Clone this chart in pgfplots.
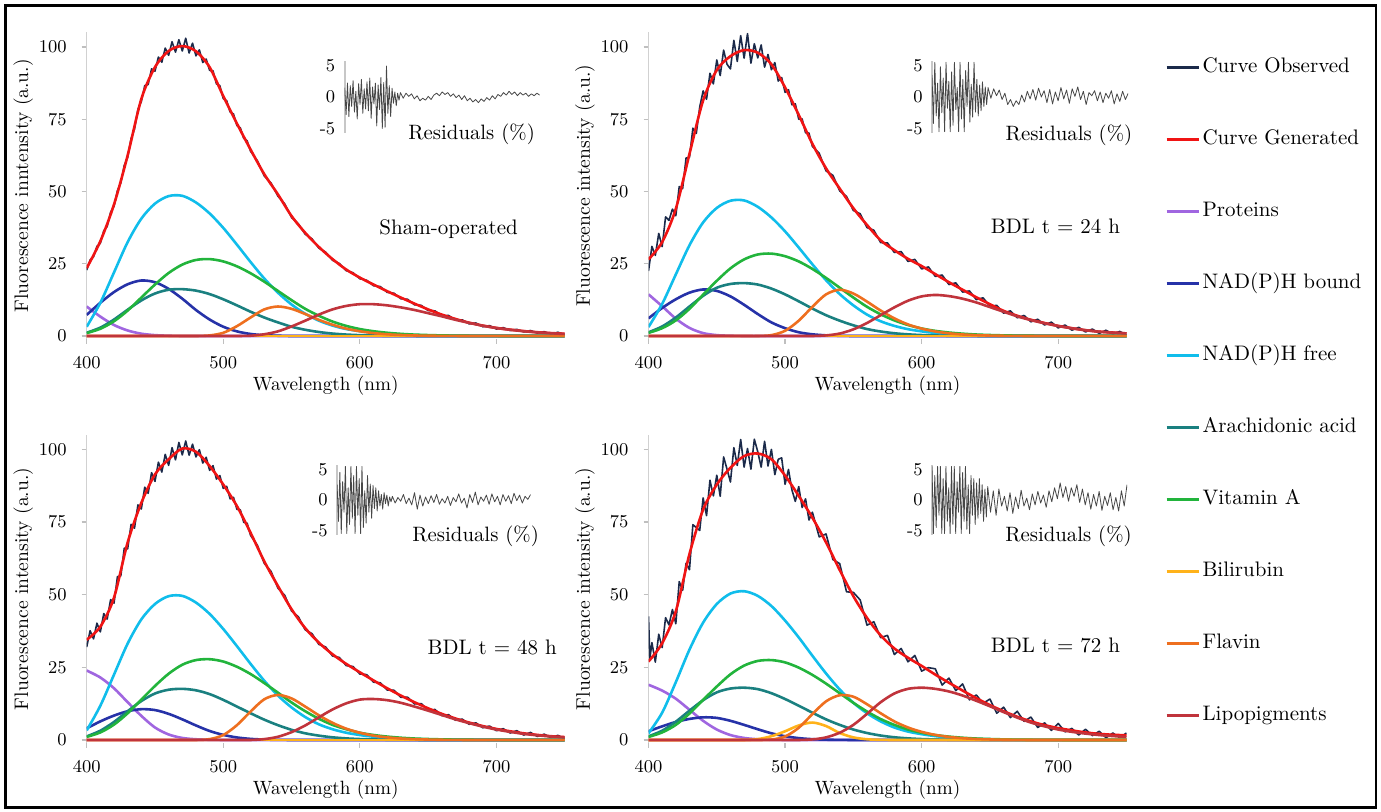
\documentclass[border=0pt]{standalone}
\usepackage{pgfplots}
\pgfplotsset{compat=1.18}
\usepackage{pgfplotstable}

\definecolor{cobs}{HTML}{1B2A4A}
\definecolor{cgen}{HTML}{F01414}
\definecolor{cprot}{HTML}{A066E0}
\definecolor{cbound}{HTML}{2632A8}
\definecolor{cfree}{HTML}{10BDEB}
\definecolor{carach}{HTML}{1A8080}
\definecolor{cvita}{HTML}{22B43C}
\definecolor{cbili}{HTML}{FFB21A}
\definecolor{cflav}{HTML}{EE6F1F}
\definecolor{clipo}{HTML}{C0343C}

% fitted components, one table per condition
\pgfplotstableread{
nm gen prot bound free arach vita bili flav lipo
400 23.5 10.2 7.3 3.2 1.13 1.0 0 0 0
410 32.8 6.7 11.5 11.5 2.9 2.5 0 0 0
420 45.5 3.8 15.2 22.0 5.7 5.1 0 0 0
430 62.5 1.9 17.9 32.5 9.1 8.8 0 0 0
440 82.0 0.8 19.2 40.6 12.3 13.3 0 0 0
450 93.0 0.3 18.6 45.8 14.7 17.8 0 0 0
460 98.6 0.1 16.3 48.4 16.0 21.8 0 0 0
470 100.3 0 12.9 48.5 16.2 24.7 0 0 0
480 98.5 0 9.0 46.2 15.7 26.3 0 0 0
490 93.0 0 5.7 42.4 14.5 26.6 0 0.2 0
500 83.0 0 3.2 37.4 12.7 25.8 0 1.1 0
510 73.5 0 1.6 31.6 10.6 24.1 0 3.4 0
520 64.5 0 0.7 25.6 8.4 21.7 0 6.4 0.1
530 56.0 0 0.27 19.9 6.4 18.8 0 9.2 0.6
540 49.0 0 0.1 15.0 4.7 15.6 0 10.2 1.6
550 41.5 0 0 10.9 3.2 12.4 0 9.4 3.3
560 35.7 0 0 7.7 2.15 9.4 0 7.6 5.3
570 30.8 0 0 5.3 1.38 7.0 0 5.6 7.4
580 26.6 0 0 3.6 0.84 5.0 0 3.9 9.2
590 23.0 0 0 2.4 0.5 3.5 0 2.55 10.4
600 20.2 0 0 1.66 0.29 2.4 0 1.63 11.0
610 17.8 0 0 1.1 0.16 1.65 0 1.0 11.0
620 15.5 0 0 0.72 0.08 1.12 0 0.59 10.6
630 13.3 0 0 0.47 0.04 0.74 0 0.34 9.9
640 11.2 0 0 0.3 0.02 0.48 0 0.18 9.0
650 9.2 0 0 0.19 0 0.32 0 0.1 7.9
660 7.4 0 0 0.12 0 0.2 0 0.05 6.8
670 5.9 0 0 0.07 0 0.12 0 0.02 5.6
680 4.6 0 0 0.04 0 0.07 0 0 4.55
690 3.6 0 0 0.02 0 0.04 0 0 3.55
700 2.8 0 0 0 0 0.02 0 0 2.75
710 2.2 0 0 0 0 0 0 0 2.15
720 1.7 0 0 0 0 0 0 0 1.65
730 1.3 0 0 0 0 0 0 0 1.25
740 1.0 0 0 0 0 0 0 0 0.94
750 0.8 0 0 0 0 0 0 0 0.7
}\shamfit

\pgfplotstableread{
nm gen prot bound free arach vita bili flav lipo
400 26.5 14.4 6.1 3.1 1.28 1.08 0 0 0
410 32.5 10.3 9.7 11.1 3.3 2.7 0 0 0
420 44.0 6.0 12.7 21.3 6.4 5.4 0 0 0
430 63.0 2.8 15.0 31.4 10.2 9.4 0 0 0
440 81.5 1.0 16.1 39.3 13.9 14.3 0 0 0
450 92.0 0.3 15.6 44.3 16.7 19.1 0 0 0
460 96.8 0.1 13.7 46.8 18.0 23.4 0 0 0
470 98.9 0 10.8 46.9 18.3 26.5 0 0 0
480 98.0 0 7.6 44.7 17.8 28.2 0 0 0
490 94.0 0 4.7 41.0 16.4 28.5 0 0.3 0
500 86.0 0 2.7 36.2 14.4 27.6 0 1.8 0
510 76.5 0 1.3 30.6 12.0 25.8 0 5.3 0
520 66.5 0 0.58 24.8 9.5 23.2 0 10.1 0
530 58.0 0 0.23 19.3 7.2 20.1 0 14.4 0.21
540 51.0 0 0.08 14.5 5.3 16.7 0 16.0 0.85
550 44.2 0 0 10.6 3.7 13.3 0 14.7 2.3
560 38.4 0 0 7.4 2.4 10.1 0 11.9 4.5
570 33.1 0 0 5.1 1.56 7.5 0 8.8 7.2
580 29.7 0 0 3.5 0.95 5.4 0 6.1 9.9
590 26.7 0 0 2.36 0.57 3.8 0 4.0 12.2
600 24.2 0 0 1.6 0.33 2.6 0 2.56 13.7
610 21.4 0 0 1.06 0.18 1.77 0 1.57 14.2
620 18.6 0 0 0.7 0.09 1.2 0 0.93 13.8
630 16.0 0 0 0.46 0.05 0.8 0 0.53 12.9
640 13.4 0 0 0.29 0.02 0.51 0 0.29 11.6
650 11.0 0 0 0.19 0 0.34 0 0.15 10.0
660 8.7 0 0 0.12 0 0.21 0 0.07 8.4
670 7.0 0 0 0.07 0 0.13 0 0.03 6.8
680 5.6 0 0 0.04 0 0.08 0 0 5.5
690 4.5 0 0 0.02 0 0.04 0 0 4.4
700 3.5 0 0 0 0 0.02 0 0 3.45
710 2.7 0 0 0 0 0 0 0 2.65
720 2.0 0 0 0 0 0 0 0 2.0
730 1.5 0 0 0 0 0 0 0 1.5
740 1.2 0 0 0 0 0 0 0 1.15
750 0.9 0 0 0 0 0 0 0 0.87
}\dayonefit

\pgfplotstableread{
nm gen prot bound free arach vita bili flav lipo
400 34.5 23.9 4.0 3.3 1.23 1.06 0 0 0
410 39.0 21.5 6.4 11.8 3.2 2.6 0 0 0
420 49.0 17.8 8.4 22.5 6.2 5.3 0 0 0
430 68.0 13.0 9.9 33.2 9.9 9.2 0 0 0
440 81.6 8.3 10.6 41.5 13.4 13.9 0 0 0
450 91.4 4.3 10.3 46.8 16.0 18.6 0 0 0
460 96.6 1.9 9.0 49.5 17.3 22.8 0 0 0
470 100.3 0.7 7.1 49.6 17.6 25.9 0 0 0
480 99.2 0.25 5.0 47.3 17.1 27.5 0 0 0
490 94.3 0.08 3.1 43.4 15.8 27.8 0 0.3 0
500 87.9 0 1.75 38.2 13.8 27.0 0 1.7 0
510 80.5 0 0.87 32.3 11.5 25.2 0 5.1 0
520 71.3 0 0.38 26.2 9.2 22.7 0 9.8 0
530 61.5 0 0.15 20.4 7.0 19.6 0 14.0 0.3
540 53.0 0 0.05 15.3 5.1 16.3 0 15.5 1.1
550 45.0 0 0 11.2 3.5 12.9 0 14.3 2.7
560 38.5 0 0 7.9 2.3 9.9 0 11.5 5.0
570 33.5 0 0 5.4 1.5 7.3 0 8.5 7.8
580 29.5 0 0 3.7 0.92 5.2 0 5.9 10.5
590 26.2 0 0 2.5 0.55 3.7 0 3.9 12.6
600 23.3 0 0 1.7 0.32 2.5 0 2.5 13.9
610 20.5 0 0 1.13 0.18 1.72 0 1.5 14.1
620 17.8 0 0 0.74 0.09 1.17 0 0.9 13.7
630 15.3 0 0 0.48 0.04 0.78 0 0.51 12.8
640 13.0 0 0 0.31 0.02 0.5 0 0.28 11.5
650 10.9 0 0 0.2 0 0.33 0 0.15 10.1
660 9.0 0 0 0.12 0 0.21 0 0.07 8.6
670 7.4 0 0 0.07 0 0.13 0 0.03 7.1
680 6.0 0 0 0.04 0 0.08 0 0 5.8
690 4.8 0 0 0.02 0 0.04 0 0 4.6
700 3.8 0 0 0 0 0.02 0 0 3.6
710 3.0 0 0 0 0 0 0 0 2.8
720 2.3 0 0 0 0 0 0 0 2.1
730 1.75 0 0 0 0 0 0 0 1.6
740 1.3 0 0 0 0 0 0 0 1.2
750 1.0 0 0 0 0 0 0 0 0.9
}\daytwofit

\pgfplotstableread{
nm gen prot bound free arach vita bili flav lipo
400 27.0 19.0 3.0 2.3 1.26 1.05 0 0 0
410 33.3 17.0 4.7 9.4 3.2 2.6 0 0 0
420 44.3 14.2 6.2 19.9 6.3 5.2 0 0 0
430 64.0 10.4 7.25 31.1 10.1 9.1 0 0 0
440 79.3 6.6 7.8 40.4 13.7 13.8 0 0 0
450 87.9 3.6 7.6 46.8 16.4 18.4 0 0 0
460 93.7 1.7 6.6 50.4 17.7 22.6 0 0 0
470 97.7 0.7 5.2 51.2 18.0 25.6 0 0 0
480 98.6 0.25 3.7 49.6 17.5 27.2 0.3 0 0
490 96.6 0.08 2.3 46.1 16.1 27.5 1.3 0.15 0
500 91.0 0 1.3 41.1 14.1 26.7 3.0 1.2 0
510 84.0 0 0.64 35.3 11.8 24.9 5.0 4.2 0
520 76.5 0 0.28 29.0 9.4 22.4 6.0 8.9 0.2
530 68.0 0 0.11 22.9 7.1 19.4 4.8 13.3 0.9
540 58.5 0 0.04 17.4 5.2 16.1 2.4 15.4 2.5
550 49.5 0 0 12.8 3.6 12.8 0.9 14.9 5.2
560 42.0 0 0 9.2 2.4 9.8 0.25 12.3 9.0
570 36.0 0 0 6.4 1.53 7.2 0.05 9.2 13.0
580 31.5 0 0 4.3 0.94 5.2 0 6.4 16.0
590 28.3 0 0 2.9 0.56 3.6 0 4.3 17.6
600 25.5 0 0 2.0 0.32 2.5 0 2.8 18.0
610 22.5 0 0 1.34 0.18 1.7 0 1.75 17.6
620 19.7 0 0 0.88 0.09 1.16 0 1.05 16.7
630 17.0 0 0 0.57 0.05 0.77 0 0.61 15.3
640 14.4 0 0 0.37 0.02 0.5 0 0.34 13.5
650 12.0 0 0 0.24 0 0.33 0 0.18 11.6
660 9.9 0 0 0.15 0 0.21 0 0.09 9.6
670 8.0 0 0 0.09 0 0.12 0 0.04 7.7
680 6.4 0 0 0.05 0 0.07 0 0 6.0
690 5.1 0 0 0.03 0 0.04 0 0 4.7
700 4.1 0 0 0 0 0.02 0 0 3.6
710 3.3 0 0 0 0 0 0 0 2.8
720 2.6 0 0 0 0 0 0 0 2.2
730 2.1 0 0 0 0 0 0 0 1.7
740 1.8 0 0 0 0 0 0 0 1.35
750 1.6 0 0 0 0 0 0 0 1.05
}\daythreefit

% observed spectra
\pgfplotstableread{
nm obs
400 22.8
402.5 26.3
405 27.4
407.5 31.0
410 32.1
412.5 36.4
415 37.9
417.5 42.8
420 44.9
422.5 50.3
425 53.0
427.5 59.0
430 61.8
432.5 68.3
435 71.6
437.5 78.4
440 81.1
442.5 86.6
445 87.0
447.5 92.4
450 91.6
452.5 96.5
455 94.7
457.5 99.6
460 97.1
462.5 101.8
465 98.2
467.5 102.5
470 98.6
472.5 103.0
475 97.9
477.5 101.3
480 96.9
482.5 99.0
485 94.6
487.5 95.8
490 91.9
492.5 91.7
495 87.2
497.5 86.6
500 82.1
502.5 81.4
505 77.5
507.5 76.8
510 72.8
512.5 72.0
515 68.4
517.5 67.5
520 63.9
525 60.6
530 55.4
535 52.9
540 48.4
545 45.7
550 41.0
555 38.8
560 35.2
565 33.6
570 30.4
575 29.0
580 26.2
585 25.1
590 22.6
595 21.9
600 19.8
605 19.3
610 17.4
615 17.1
620 15.1
625 14.8
630 12.9
635 12.7
640 10.8
645 10.6
650 8.8
655 8.7
660 7.0
665 7.1
670 5.5
675 5.6
680 4.2
685 4.5
690 3.2
695 3.6
700 2.4
705 2.9
710 1.9
715 2.3
720 1.4
725 1.9
730 1.0
735 1.5
740 0.7
745 1.3
750 0.5
}\shamobs

\pgfplotstableread{
nm obs
400 22.5
402.5 31.0
405 27.9
407.5 35.5
410 30.9
412.5 41.2
415 40.0
417.5 43.9
420 41.6
422.5 51.7
425 51.0
427.5 61.6
430 61.8
432.5 71.9
435 70.1
437.5 79.2
440 84.8
442.5 81.9
445 90.9
447.5 87.2
450 95.5
452.5 90.1
455 98.9
457.5 94.0
460 92.4
462.5 102.3
465 95.0
467.5 103.9
470 96.1
472.5 104.6
475 94.4
477.5 101.1
480 96.2
482.5 100.7
485 93.0
487.5 97.4
490 92.1
492.5 94.6
495 88.2
497.5 89.4
500 84.3
502.5 85.2
505 80.0
507.5 80.3
510 75.0
512.5 75.1
515 70.3
517.5 70.2
520 65.6
525 63.2
530 57.1
535 55.6
540 50.2
545 48.3
550 43.4
555 42.3
560 37.5
565 36.6
570 32.3
575 32.2
580 28.9
585 29.2
590 25.8
595 26.5
600 23.2
605 23.9
610 20.6
615 21.1
620 17.8
625 18.4
630 15.2
635 15.6
640 12.6
645 13.2
650 10.3
655 10.6
660 7.9
665 8.7
670 6.3
675 7.1
680 4.9
685 5.8
690 3.8
695 4.8
700 2.8
705 3.8
710 2.0
715 3.0
720 1.4
725 2.4
730 0.9
735 2.0
740 0.6
745 1.6
750 0.4
}\dayoneobs

\pgfplotstableread{
nm obs
400 32.0
402.5 37.6
405 34.8
407.5 40.2
410 37.2
412.5 43.5
415 41.6
417.5 48.3
420 47.1
422.5 56.2
425 56.5
427.5 66.0
430 65.8
432.5 74.2
435 72.9
437.5 80.9
440 79.5
442.5 87.0
445 84.9
447.5 92.0
450 89.0
452.5 95.6
455 92.2
457.5 98.3
460 94.5
462.5 100.6
465 96.4
467.5 102.4
470 98.1
472.5 102.9
475 98.0
477.5 101.8
480 97.4
482.5 99.9
485 95.3
487.5 97.3
490 92.8
492.5 94.4
495 89.8
497.5 91.0
500 86.6
502.5 87.3
505 83.0
507.5 83.5
510 79.4
512.5 79.2
515 74.9
517.5 74.6
520 70.4
525 67.0
530 60.8
535 58.0
540 52.3
545 49.8
550 44.4
555 42.4
560 37.9
565 36.6
570 32.9
575 32.0
580 28.9
585 28.4
590 25.6
595 25.3
600 22.7
605 22.5
610 19.9
615 19.7
620 17.2
625 17.1
630 14.7
635 14.7
640 12.4
645 12.5
650 10.3
655 10.5
660 8.4
665 8.7
670 6.8
675 7.2
680 5.4
685 5.9
690 4.2
695 4.8
700 3.2
705 3.9
710 2.4
715 3.2
720 1.7
725 2.6
730 1.2
735 2.0
740 0.8
745 1.6
750 0.5
}\daytwoobs

\pgfplotstableread{
nm obs
400 42.5
401 28.0
402.5 33.5
405 26.8
407.5 36.4
410 31.8
412.5 42.1
415 39.6
417.5 44.9
420 40.0
422.5 54.5
425 51.5
427.5 60.8
430 58.6
432.5 74.1
435 73.1
437.5 72.1
440 83.3
442.5 77.2
445 89.4
447.5 84.0
450 91.1
452.5 83.9
455 97.4
457.5 93.2
460 88.8
462.5 100.6
465 94.5
467.5 103.4
470 93.9
472.5 100.3
475 93.2
477.5 103.5
480 99.2
482.5 93.9
485 102.8
487.5 94.3
490 100.0
492.5 91.3
495 96.6
497.5 97.1
500 88.0
502.5 93.1
505 86.1
507.5 82.1
510 87.2
512.5 80.0
515 83.0
517.5 75.7
520 78.4
525 69.9
530 70.9
535 62.1
540 60.7
545 51.0
550 50.8
555 48.2
560 39.5
565 40.7
570 35.2
575 36.0
580 29.4
585 31.5
590 26.9
595 29.1
600 23.7
605 24.9
610 24.5
615 18.9
620 21.3
625 17.0
630 19.3
635 13.8
640 15.5
645 12.6
650 14.1
655 9.2
660 11.3
665 7.7
670 9.9
675 6.4
680 7.9
685 4.3
690 5.9
695 3.3
700 5.7
705 2.8
710 4.0
715 1.7
720 3.7
725 1.5
730 3.0
735 0.75
740 2.4
745 0.8
750 2.4
}\daythreeobs

% residuals in percent
\pgfplotstableread{
nm res
400 1.5
402.5 -2.8
405 2.2
407.5 -3.1
410 1.8
412.5 -1.5
415 2.6
417.5 -2.4
420 0.9
422.5 -3.5
425 2.1
427.5 -1.2
430 2.8
432.5 -2.6
435 1.3
437.5 -1.9
440 2.4
442.5 -2.2
445 3.0
447.5 -3.4
450 1.6
452.5 -1.1
455 2.2
457.5 -4.6
460 1.9
462.5 -2.0
465 3.1
467.5 -5.0
470 2.3
472.5 -4.8
475 4.9
477.5 -2.6
480 1.8
482.5 -3.1
485 1.4
487.5 -1.0
490 0.8
492.5 -1.4
495 0.6
497.5 -0.5
500 0.7
505 -0.2
510 0.6
515 0.1
520 0.5
525 -0.3
530 0.2
535 -0.6
540 -0.2
545 -0.5
550 0.1
555 -0.4
560 0.3
565 0.6
570 0.2
575 0.8
580 0.4
585 0.7
590 0.1
595 0.5
600 -0.1
605 0.3
610 -0.4
615 0.2
620 -0.6
625 -0.2
630 -0.8
635 -0.4
640 -0.9
645 -0.3
650 -0.7
655 -0.1
660 -0.5
665 0.2
670 -0.3
675 0.4
680 0.1
685 0.7
690 0.3
695 0.9
700 0.4
705 0.8
710 0.2
715 0.7
720 0.3
725 0.6
730 0.1
735 0.5
740 0.2
745 0.6
750 0.3
}\shamres

\pgfplotstableread{
nm res
400 3.5
402.5 -4.2
405 5.5
407.5 -3.0
410 2.2
412.5 -5.5
415 4.8
417.5 -2.5
420 3.0
422.5 -5.5
425 5.5
427.5 -1.8
430 2.5
432.5 -5.5
435 4.0
437.5 -4.5
440 5.5
442.5 -2.0
445 1.5
447.5 -5.5
450 5.5
452.5 -3.5
455 2.8
457.5 -5.5
460 4.2
462.5 -1.5
465 5.5
467.5 -4.0
470 2.0
472.5 -3.2
475 5.5
477.5 -2.4
480 2.8
482.5 -3.0
485 1.9
487.5 -2.2
490 2.4
492.5 -1.5
495 1.6
497.5 -1.2
500 1.5
505 -0.2
510 1.3
515 0.2
520 1.1
525 -0.4
530 0.6
535 -1.2
540 -0.4
545 -1.5
550 -0.6
555 -1.2
560 0.3
565 -0.8
570 0.9
575 -0.3
580 1.2
585 -0.5
590 1.4
595 0.0
600 1.0
605 -0.9
610 1.2
615 -1.1
620 0.8
625 -0.6
630 1.5
635 -0.3
640 1.1
645 -1.0
650 1.3
655 0.1
660 1.6
665 -0.4
670 0.9
675 -1.2
680 0.7
685 0.2
690 1.0
695 -0.6
700 0.8
705 -0.9
710 0.6
715 -0.2
720 1.0
725 -1.1
730 0.5
735 -0.7
740 0.9
745 -0.4
750 0.6
}\dayoneres

\pgfplotstableread{
nm res
400 2.5
402.5 -3.5
405 4.5
407.5 -5.5
410 3.0
412.5 -2.0
415 5.5
417.5 -5.5
420 2.0
422.5 -4.0
425 5.5
427.5 -3.0
430 4.0
432.5 -5.5
435 5.5
437.5 -2.5
440 3.5
442.5 -5.5
445 5.5
447.5 -4.5
450 1.5
452.5 -3.8
455 4.0
457.5 -2.0
460 2.6
462.5 -3.0
465 2.4
467.5 -1.4
470 2.0
472.5 -1.8
475 1.5
477.5 -1.0
480 0.9
482.5 -1.5
485 1.2
487.5 -0.6
490 0.8
492.5 -1.0
495 0.5
497.5 -0.3
500 0.6
505 -0.5
510 0.4
515 -0.2
520 0.9
525 -0.6
530 0.3
535 -0.8
540 1.2
545 -1.5
550 0.8
555 -1.0
560 0.5
565 -0.6
570 0.7
575 -0.4
580 0.9
585 -0.7
590 0.2
595 -0.5
600 0.6
605 -0.9
610 0.4
615 -0.3
620 1.0
625 -0.5
630 0.3
635 -1.3
640 0.9
645 -0.4
650 1.3
655 -0.8
660 0.5
665 -0.2
670 0.8
675 -0.7
680 1.0
685 -0.3
690 0.6
695 -0.8
700 0.9
705 -0.2
710 0.7
715 -0.6
720 1.1
725 -0.1
730 0.8
735 -0.5
740 0.6
745 0.1
750 0.9
}\daytwores

\pgfplotstableread{
nm res
400 5.5
402.5 -5.5
405 4.0
407.5 -4.5
410 5.5
412.5 -2.5
415 5.5
417.5 -5.5
420 3.5
422.5 -5.5
425 5.5
427.5 -3.5
430 2.0
432.5 -5.5
435 5.5
437.5 -4.0
440 5.5
442.5 -5.5
445 3.0
447.5 -2.0
450 5.5
452.5 -5.5
455 4.5
457.5 -3.5
460 5.5
462.5 -4.8
465 2.5
467.5 -5.5
470 4.0
472.5 -2.5
475 3.5
477.5 -4.0
480 2.8
482.5 -3.0
485 3.5
487.5 -2.2
490 2.5
492.5 -3.5
495 1.8
497.5 -2.8
500 2.2
505 -2.0
510 1.5
515 -2.5
520 1.8
525 -1.0
530 0.6
535 -1.8
540 1.2
545 -2.2
550 0.5
555 -1.4
560 1.6
565 -1.0
570 0.3
575 -1.6
580 1.0
585 -0.8
590 1.4
595 -0.5
600 0.8
605 -1.2
610 1.5
615 -0.3
620 2.0
625 0.2
630 2.8
635 0.4
640 2.2
645 -0.2
650 2.0
655 0.6
660 2.5
665 -0.4
670 1.8
675 -0.8
680 1.2
685 -1.5
690 0.9
695 -1.0
700 1.4
705 -1.7
710 0.6
715 -0.9
720 1.2
725 -1.6
730 0.4
735 -1.8
740 1.5
745 -1.0
750 2.5
}\daythreeres

\tikzset{titlenode/.style={font=\fontsize{10.5}{12}\selectfont}}

\pgfplotsset{
  panel/.style={
    scale only axis, width=239pt,
    xmin=400, xmax=750, ymin=-1, ymax=105,
    xtick={400,500,600,700}, ytick={0,25,50,75,100},
    axis x line*=bottom, axis y line*=left,
    axis line style={-},
    x axis line style={draw=none},
    y axis line style={draw=black!18, line width=0.8pt},
    tick style={draw=black!25, line width=0.6pt},
    tick align=outside, major tick length=2.5pt,
    ticklabel style={font=\fontsize{9.5}{11}\selectfont},
    xticklabel style={yshift=-3pt},
    yticklabel style={xshift=-4pt},
    xlabel={Wavelength (nm)},
    xlabel style={at={(axis description cs:0.5,-0.153)}, anchor=center,
      font=\fontsize{9.6}{11}\selectfont},
    ylabel style={at={(axis description cs:-0.133,0.5)}, anchor=center,
      font=\fontsize{9.8}{11}\selectfont},
  },
  inset/.style={
    scale only axis, width=97.5pt,
    xmin=400, xmax=750, ymin=-5.7, ymax=5.7,
    xtick=\empty, ytick={-5,0,5}, yticklabels={{-5},{0},{5}},
    axis x line*=bottom, axis y line*=left,
    axis line style={-},
    x axis line style={draw=none},
    y axis line style={draw=black!22, line width=0.8pt},
    major tick length=0pt,
    yticklabel style={font=\fontsize{9}{10}\selectfont, xshift=-1.2pt},
    xlabel={Residuals (\%)},
    xlabel style={anchor=center, font=\fontsize{10.4}{12}\selectfont},
  },
  comp/.style={smooth, line width=1.3pt},
}

\newcommand\observed[1]{\addplot[cobs, line width=0.8pt, line join=round] table[x=nm,y=obs] {#1};}
\newcommand\fitted[1]{%
  \addplot[cgen, comp] table[x=nm,y=gen] {#1};
  \addplot[cprot, comp] table[x=nm,y=prot] {#1};
  \addplot[cbound, comp] table[x=nm,y=bound] {#1};
  \addplot[cfree, comp] table[x=nm,y=free] {#1};
  \addplot[carach, comp] table[x=nm,y=arach] {#1};
  \addplot[cvita, comp] table[x=nm,y=vita] {#1};
  \addplot[cbili, comp] table[x=nm,y=bili] {#1};
  \addplot[cflav, comp] table[x=nm,y=flav] {#1};
  \addplot[clipo, comp] table[x=nm,y=lipo] {#1};
}
\newcommand\residual[1]{\addplot[black!72, line width=0.4pt, line join=round] table[x=nm,y=res] {#1};}

\begin{document}
\begin{tikzpicture}
\useasboundingbox (0,0) rectangle (690.5pt,406pt);
\draw[line width=1.4pt] (2.6pt,2.2pt) rectangle (688pt,403.2pt);

% top left
\begin{axis}[panel, height=153.2pt, at={(43.35pt,236.55pt)}, anchor=south west,
  ylabel={Fluorescence inntensity (a.u.)}]
\observed{\shamobs}
\fitted{\shamfit}
\node[titlenode] at (axis cs:665,37) {Sham-operated};
\end{axis}
\begin{axis}[inset, height=35.9pt, at={(172.35pt,339.55pt)}, anchor=south west,
  xlabel style={at={(axis description cs:0.651,0)}, yshift=-0.5pt}]
\residual{\shamres}
\end{axis}

% top right, carries the legend
\begin{axis}[panel, height=153.2pt, at={(324.25pt,236.55pt)}, anchor=south west,
  ylabel={Fluorescence intensity (a.u.)},
  legend style={at={(1.0807,0.9195)}, anchor=north west, draw=none, fill=none,
    inner sep=0pt, outer sep=0pt, row sep=26pt, column sep=1.25pt,
    font=\fontsize{10.5}{12}\selectfont,
    nodes={inner sep=0pt, text height=7.5pt, text depth=2.5pt},
    cells={anchor=west}},
  legend image code/.code={\draw[#1, line width=1.5pt] (0pt,0pt) -- (16pt,0pt);}]
\observed{\dayoneobs}
\fitted{\dayonefit}
\node[titlenode] at (axis cs:698,38) {BDL t = 24 h};
\legend{Curve Observed, Curve Generated, Proteins, NAD(P)H bound, NAD(P)H free,
  Arachidonic acid, Vitamin A, Bilirubin, Flavin, Lipopigments}
\end{axis}
\begin{axis}[inset, height=35.9pt, width=98.1pt, at={(466pt,339.55pt)}, anchor=south west,
  xlabel style={at={(axis description cs:0.698,0)}, yshift=-1pt}]
\residual{\dayoneres}
\end{axis}

% bottom left
\begin{axis}[panel, height=154pt, at={(43.35pt,34.55pt)}, anchor=south west,
  ylabel={Fluorescence intensity (a.u.)}]
\observed{\daytwoobs}
\fitted{\daytwofit}
\node[titlenode] at (axis cs:697,32) {BDL t = 48 h};
\end{axis}
\begin{axis}[inset, height=34.8pt, width=96.75pt, at={(168.55pt,138.6pt)}, anchor=south west,
  xlabel style={at={(axis description cs:0.716,0)}, yshift=-1pt}]
\residual{\daytwores}
\end{axis}

% bottom right
\begin{axis}[panel, height=154pt, at={(324.25pt,34.55pt)}, anchor=south west,
  ylabel={Fluorescence intensity (a.u.)}]
\observed{\daythreeobs}
\fitted{\daythreefit}
\node[titlenode] at (axis cs:698,32.4) {BDL t = 72 h};
\end{axis}
\begin{axis}[inset, height=34.8pt, at={(466pt,138.6pt)}, anchor=south west,
  xlabel style={at={(axis description cs:0.70,0)}, yshift=-1pt}]
\residual{\daythreeres}
\end{axis}
\end{tikzpicture}
\end{document}
